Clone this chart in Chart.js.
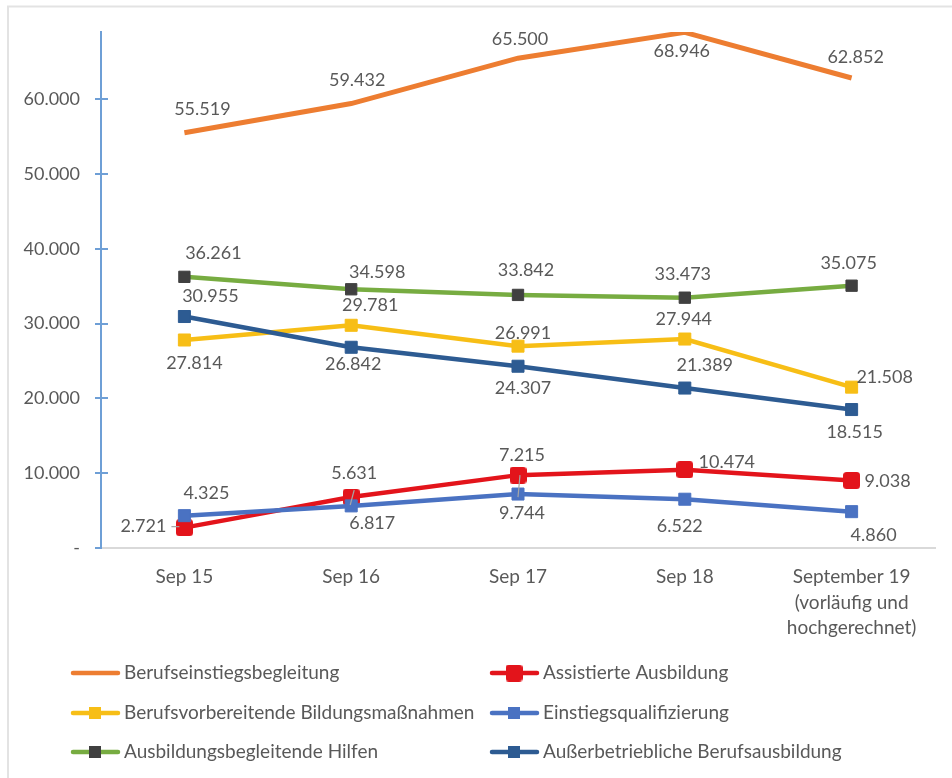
<!DOCTYPE html>
<html>
<head>
<meta charset="utf-8">
<script src="https://cdn.jsdelivr.net/npm/chart.js@4"></script>
<style>
html,body{margin:0;padding:0;background:#fff;}
#wrap{position:relative;width:952px;height:778px;}
canvas{display:block;}
</style>
</head>
<body>
<div id="wrap"><canvas id="c" width="952" height="778"></canvas></div>
<script>
// ---- data ----
const categories = ['Sep 15', 'Sep 16', 'Sep 17', 'Sep 18', ['September 19', '(vorläufig und', 'hochgerechnet)']];
const seriesNames = [
  'Berufseinstiegsbegleitung',
  'Assistierte Ausbildung',
  'Berufsvorbereitende Bildungsmaßnahmen',
  'Einstiegsqualifizierung',
  'Ausbildungsbegleitende Hilfen',
  'Außerbetriebliche Berufsausbildung'
];
const berufseinstiegsbegleitung = [55519, 59432, 65500, 68946, 62852];
const assistierteAusbildung = [2721, 6817, 9744, 10474, 9038];
const berufsvorbereitende = [27814, 29781, 26991, 27944, 21508];
const einstiegsqualifizierung = [4325, 5631, 7215, 6522, 4860];
const ausbildungsbegleitende = [36261, 34598, 33842, 33473, 35075];
const ausserbetriebliche = [30955, 26842, 24307, 21389, 18515];
const yTickValues = [0, 10000, 20000, 30000, 40000, 50000, 60000];

// ---- styling / label placement (pixel offsets of label centres from points) ----
function roundedSquare(size, r, color){
  const c = document.createElement('canvas');
  c.width = size; c.height = size;
  const g = c.getContext('2d');
  g.fillStyle = color;
  g.beginPath();
  g.roundRect(0, 0, size, size, r);
  g.fill();
  return c;
}
const redMarker = roundedSquare(17, 3.5, '#E3141B');

const styles = [
  {color:'#ED7D31', point:false, radius:0, pcolor:'#ED7D31'},
  {color:'#E3141B', point:redMarker, radius:9, pcolor:'#E3141B'},
  {color:'#F7BE16', point:'rect', radius:8.5, pcolor:'#F7BE16'},
  {color:'#4A72C2', point:'rect', radius:8.5, pcolor:'#4A72C2'},
  {color:'#77AC41', point:'rect', radius:8, pcolor:'#404040'},
  {color:'#2D5B92', point:'rect', radius:8.5, pcolor:'#2D5B92'}
];
const labelOffsets = [
  [[18,-24],[6,-23],[2,-19],[-3,19],[4,-21]],
  [[-41,-1],[21,26],[4,38],[42,-7],[36,1]],
  [[10,23],[19,-20],[5,-13],[-1,-20],[33,-10]],
  [[22,-22],[3,-33],[4,-39],[-5,27],[22,24]],
  [[29,-24],[26,-17],[8,-25],[-2,-23],[-3,-23]],
  [[26,-20],[2,17],[5,22],[20,-23],[3,23]]
];
const leaders = { // [seriesIndex-pointIndex] -> segment relative to point
  '1-0': [-13,-1,-5,-1],
  '1-1': [3,-7,-1,8],
  '1-2': [2,0,0,22]
};

const allSeries = [berufseinstiegsbegleitung, assistierteAusbildung, berufsvorbereitende,
  einstiegsqualifizierung, ausbildungsbegleitende, ausserbetriebliche];

const FONT = 'Lato, "Open Sans", sans-serif';
const TXT = '#595959';

function fmt(v){
  if (v === 0) return '-';
  return Math.round(v).toString().replace(/\B(?=(\d{3})+(?!\d))/g, '.');
}

const datasets = allSeries.map((d, i) => ({
  label: seriesNames[i],
  data: d,
  borderColor: styles[i].color,
  backgroundColor: styles[i].pcolor,
  pointBackgroundColor: styles[i].pcolor,
  pointBorderColor: styles[i].pcolor,
  pointBorderWidth: 1,
  pointStyle: styles[i].point,
  pointRadius: styles[i].radius,
  borderWidth: i === 0 ? 5 : 4.5,
  tension: 0,
  order: allSeries.length - i,
  clip: i === 0 ? 0 : 4
}));

const decor = {
  id: 'decor',
  beforeDraw(chart){
    const ctx = chart.ctx;
    ctx.save();
    ctx.fillStyle = '#fff';
    ctx.fillRect(0,0,chart.width,chart.height);
    ctx.strokeStyle = '#e3e3e3';
    ctx.lineWidth = 2;
    ctx.beginPath();
    ctx.moveTo(8, 800); ctx.lineTo(8, 6.5); ctx.lineTo(960, 6.5);
    ctx.stroke();
    ctx.restore();
  },
  afterDraw(chart){
    const ctx = chart.ctx;
    const y = chart.scales.y;
    const ca = chart.chartArea;
    ctx.save();
    // y tick marks crossing the axis
    ctx.strokeStyle = '#6E9FD6';
    ctx.lineWidth = 2;
    yTickValues.forEach(v => {
      const py = Math.round(y.getPixelForValue(v));
      ctx.beginPath();
      ctx.moveTo(ca.left - 6, py);
      ctx.lineTo(v === 0 ? ca.left : ca.left + 7, py);
      ctx.stroke();
    });
    // data labels
    ctx.font = '18px ' + FONT;
    ctx.textAlign = 'center';
    ctx.textBaseline = 'middle';
    chart.data.datasets.forEach((ds, si) => {
      const meta = chart.getDatasetMeta(si);
      meta.data.forEach((pt, pi) => {
        const off = labelOffsets[si][pi];
        const key = si + '-' + pi;
        if (leaders[key]) {
          const l = leaders[key];
          ctx.strokeStyle = '#a6a6a6';
          ctx.lineWidth = 1.2;
          ctx.beginPath();
          ctx.moveTo(pt.x + l[0], pt.y + l[1]);
          ctx.lineTo(pt.x + l[2], pt.y + l[3]);
          ctx.stroke();
        }
        ctx.fillStyle = TXT;
        ctx.fillText(fmt(ds.data[pi]), pt.x + off[0], pt.y + off[1]);
      });
    });
    // legend (2 columns)
    const colX = [71, 490];
    const rowY = [673, 713, 752];
    chart.data.datasets.forEach((ds, i) => {
      const cx = colX[i % 2], cy = rowY[Math.floor(i / 2)];
      ctx.strokeStyle = ds.borderColor;
      ctx.lineWidth = 4.5;
      ctx.lineCap = 'round';
      ctx.beginPath();
      ctx.moveTo(cx + 2, cy); ctx.lineTo(cx + 47, cy);
      ctx.stroke();
      ctx.lineCap = 'butt';
      if (ds.pointStyle) {
        if (ds.pointStyle instanceof HTMLCanvasElement) {
          ctx.drawImage(ds.pointStyle, cx + 24 - 8.5, cy - 8.5);
        } else {
          ctx.fillStyle = ds.pointBackgroundColor;
          ctx.fillRect(cx + 18, cy - 6, 12, 12);
        }
      }
      ctx.fillStyle = TXT;
      ctx.font = '19px ' + FONT;
      ctx.textAlign = 'left';
      ctx.textBaseline = 'middle';
      ctx.fillText(ds.label, cx + 53, cy);
    });
    ctx.restore();
  }
};

new Chart(document.getElementById('c'), {
  type: 'line',
  data: { labels: categories, datasets: datasets },
  options: {
    responsive: false,
    animation: false,
    events: [],
    layout: { padding: { top: 32, right: 17, left: 0, bottom: 0 } },
    plugins: { legend: { display: false }, tooltip: { enabled: false } },
    scales: {
      x: {
        offset: true,
        grid: { display: false, drawTicks: false, offset: true },
        border: { display: true, color: '#d9d9d9', width: 2 },
        ticks: { color: TXT, font: { family: FONT, size: 19, lineHeight: 1.35 }, padding: 16, maxRotation: 0, autoSkip: false },
        afterFit(s){ s.height = 230; }
      },
      y: {
        min: 0, max: 69000,
        grid: { display: false, drawTicks: false },
        border: { display: true, color: '#6E9FD6', width: 2 },
        ticks: {
          autoSkip: false,
          color: TXT,
          font: { family: FONT, size: 18 },
          padding: 21,
          callback: (v) => fmt(v)
        },
        afterBuildTicks(s){ s.ticks = yTickValues.map(v => ({ value: v })); },
        afterFit(s){ s.width = 101; }
      }
    }
  },
  plugins: [decor]
});
</script>
</body>
</html>
